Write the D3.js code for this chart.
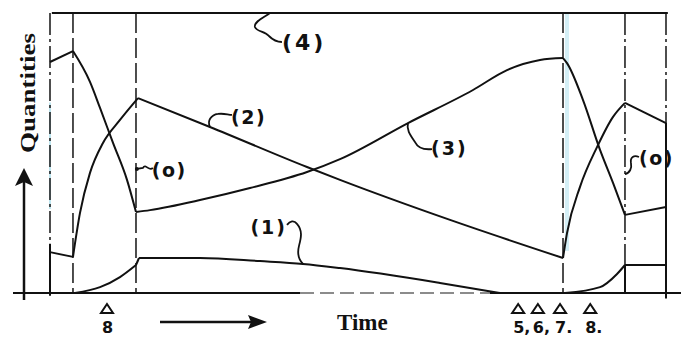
<!DOCTYPE html>
<html>
<head>
<meta charset="UTF-8" />
<title>quantities over time</title>
<style>
    body { margin: 0; padding: 0; background: #fff; }
    svg { display: block; }
    .curve { fill: none; stroke: #111; stroke-width: 2; stroke-linejoin: round; }
    .lbl { font-family: 'DejaVu Sans', sans-serif; fill: #111; }
    .axisTitle { font-family: 'Liberation Serif', serif; font-weight: bold; fill: #111; }
</style>
</head>
<body>
<div id="chart"></div>
<script src="https://cdnjs.cloudflare.com/ajax/libs/d3/7.8.5/d3.min.js"></script>
<script>
// time runs 0..100, quantities 0..100
const eventTimes = [0, 3.73, 13.96, 83.28, 93.34, 100]

// (0) and (3) form one continuous line
const q0Start = [[0, 82.5], [3.73, 86.4]]
const q0Fall1 = [[3.73, 86.4], [6.49, 75.4], [8.12, 66.1], [10.23, 53.6], [12.5, 40.4], [13.96, 28.9]]
const q3Rise = [[13.96, 28.9], [16.23, 29.6], [24.35, 33.2], [32.47, 37.5], [41.72, 43.2], [47.08, 47.8],
    [58.12, 60.7], [68.67, 72.5], [74.19, 79.6], [79.55, 83.2], [83.28, 83.9]]
const q0Fall2 = [[83.28, 83.9], [83.93, 82.1], [86.53, 68.9], [89.29, 51.1], [91.4, 39.3], [93.34, 27.9]]
const q0End = [[93.34, 27.9], [100, 30.7]]

// (2)
const q2Start = [[0, 14.6], [3.73, 12.9]]
const q2Rise1 = [[3.73, 12.9], [4.87, 28.6], [6.49, 42.9], [8.6, 53.6], [11.36, 61.8], [14.29, 69.6]]
const q2Fall = [[14.29, 69.6], [25.97, 59.3], [41.72, 45.0], [47.08, 40.4], [64.94, 26.1], [83.28, 12.5]]
const q2Rise2 = [[83.28, 12.5], [83.93, 21.4], [86.04, 37.9], [88.8, 52.1], [91.4, 62.9], [93.34, 67.9]]
const q2End = [[93.34, 67.9], [100, 60.7]]

// (1)
const q1Rise1 = [[4.06, 0], [8.12, 2.1], [11.36, 5.7], [13.96, 10.0]]
const q1Step = [[13.96, 10.0], [14.45, 12.5]]
const q1Fall = [[14.45, 12.5], [24.35, 12.5], [34.09, 11.4], [41.07, 10.4], [47.08, 8.9], [63.31, 3.6], [73.05, 0]]
const q1Rise2 = [[83.6, 0], [89.29, 2.1], [92.05, 6.8], [93.34, 10.0]]
const q1End = [[93.34, 10.0], [100, 10.0]]

// (4)
const q4 = [[0.3, 100], [100.3, 100]]

// bottom markers
const markTimes = [9.25, 76.0, 79.2, 82.8, 87.7]
const markLabels = ['8', '5,', '6,', '7.', '8.']

const W = 681, H = 338
const x = d3.scaleLinear().domain([0, 100]).range([50, 666])
const y = d3.scaleLinear().domain([0, 100]).range([293, 13])

const svg = d3.select('#chart').append('svg')
    .attr('width', W)
    .attr('height', H)

// faint scanner tint near the boundaries
svg.append('line')
    .attr('x1', x(83.28) + 4).attr('x2', x(83.28) + 4)
    .attr('y1', y(100)).attr('y2', y(15))
    .attr('stroke', '#d4eff6').attr('stroke-width', 4)
svg.append('line')
    .attr('x1', x(0)).attr('x2', x(0))
    .attr('y1', y(68)).attr('y2', y(30))
    .attr('stroke', '#bfe6f0').attr('stroke-width', 2)

// event boundaries
const dashStyle = ['22,4,3,4', '20,5', '20,5', '20,5', '22,4,3,4', '22,4,3,4']
svg.selectAll('.event')
    .data(eventTimes)
    .join('line')
    .attr('class', 'event')
    .attr('x1', d => x(d)).attr('x2', d => x(d))
    .attr('y1', y(100)).attr('y2', y(0))
    .attr('stroke', '#222')
    .attr('stroke-width', 1.6)
    .attr('stroke-dasharray', (d, i) => dashStyle[i])

// solid lower parts of the outer boundaries
const solidParts = [
    [eventTimes[0], q2Start[0][1] + 3, -1],
    [eventTimes[4], q1End[0][1], 0],
    [eventTimes[5], q2End[1][1], -2]
]
svg.selectAll('.solidPart')
    .data(solidParts)
    .join('line')
    .attr('class', 'solidPart')
    .attr('x1', d => x(d[0])).attr('x2', d => x(d[0]))
    .attr('y1', d => y(d[1])).attr('y2', d => y(d[2]))
    .attr('stroke', '#111')
    .attr('stroke-width', 2)

// baseline
svg.append('line')
    .attr('x1', 13).attr('x2', 300).attr('y1', y(0)).attr('y2', y(0))
    .attr('stroke', '#111').attr('stroke-width', 2)
svg.append('line')
    .attr('x1', 300).attr('x2', 490).attr('y1', y(0)).attr('y2', y(0))
    .attr('stroke', '#666').attr('stroke-width', 1.5).attr('stroke-dasharray', '14,6')
svg.append('line')
    .attr('x1', 490).attr('x2', W).attr('y1', y(0)).attr('y2', y(0))
    .attr('stroke', '#111').attr('stroke-width', 2)

// curves
const straight = d3.line().x(d => x(d[0])).y(d => y(d[1])).curve(d3.curveLinear)
const smooth = d3.line().x(d => x(d[0])).y(d => y(d[1])).curve(d3.curveMonotoneX)

const pieces = [
    [q4, straight, '#111'],
    [q0Start, straight, '#111'], [q0Fall1, smooth, '#111'], [q3Rise, smooth, '#111'],
    [q0Fall2, smooth, '#111'], [q0End, straight, '#111'],
    [q2Start, straight, '#111'], [q2Rise1, smooth, '#111'], [q2Fall, smooth, '#111'],
    [q2Rise2, smooth, '#111'], [q2End, straight, '#111'],
    [q1Rise1, smooth, '#111'], [q1Step, straight, '#111'], [q1Fall, smooth, '#111'],
    [q1Rise2, smooth, '#8a8a8a'], [q1End, straight, '#111']
]
svg.selectAll('.curve')
    .data(pieces)
    .join('path')
    .attr('class', 'curve')
    .attr('stroke', d => d[2])
    .attr('d', d => d[1](d[0]))

// labels with wiggly leaders: anchor point, leader path, text position
const labels = [
    { at: [35.7, 100], wiggle: 'M0,0 C-5,4 -16,8 -15,14 C-13,19 -5,18 -1,23 C3,27 8,29 12,29', text: '(4)', tx: 12, ty: 37, size: 22, sp: 3 },
    { at: [25.97, 59.3], wiggle: 'M0,0 C-3,-6 1,-12 8,-13 C14,-14 18,-12 22,-12', text: '(2)', tx: 21, ty: -3, size: 19, sp: 1.5 },
    { at: [14.1, 44.3], wiggle: 'M0,0 L6,-1 C9,-6 12,3 16,-1', text: '(o)', tx: 15, ty: 8, size: 19, sp: 1.5 },
    { at: [41.07, 10.4], wiggle: 'M0,0 C-4,-4 -6,-10 -4,-18 C-2,-26 0,-33 -6,-40 C-9,-44 -13,-43 -16,-39', text: '(1)', tx: -16, ty: -30, size: 19, sp: 2, anchor: 'end' },
    { at: [58.12, 60.7], wiggle: 'M0,0 C-2,7 3,13 7,19 C10,25 15,27 24,26', text: '(3)', tx: 23, ty: 32, size: 19, sp: 2 },
    { at: [93.34, 42.5], wiggle: 'M0,0 C5,-1 7,-6 6,-11 C5,-17 9,-19 14,-17', text: '(o)', tx: 14, ty: -9, size: 19, sp: 1.5 }
]
const lg = svg.selectAll('.label')
    .data(labels)
    .join('g')
    .attr('class', 'label')
    .attr('transform', d => `translate(${x(d.at[0])},${y(d.at[1])})`)
lg.append('path')
    .attr('d', d => d.wiggle)
    .attr('fill', 'none')
    .attr('stroke', '#111')
    .attr('stroke-width', 1.8)
lg.append('text')
    .attr('class', 'lbl')
    .attr('x', d => d.tx)
    .attr('y', d => d.ty)
    .attr('font-size', d => d.size)
    .attr('font-weight', 'bold')
    .attr('letter-spacing', d => d.sp)
    .attr('text-anchor', d => d.anchor || 'start')
    .text(d => d.text)
lg.filter((d, i) => i === 2).append('circle')
    .attr('r', 2).attr('fill', '#111')

// y axis arrow
svg.append('line')
    .attr('x1', 24).attr('x2', 24).attr('y1', 300).attr('y2', 182)
    .attr('stroke', '#111').attr('stroke-width', 2.5)
svg.append('path')
    .attr('d', 'M24,168 L15,186 L24,182 L33,186 Z')
    .attr('fill', '#111')
svg.append('text')
    .attr('class', 'axisTitle')
    .attr('transform', 'translate(35,93) rotate(-90)')
    .attr('text-anchor', 'middle')
    .attr('font-size', 21)
    .attr('textLength', 120)
    .attr('lengthAdjust', 'spacingAndGlyphs')
    .text('Quantities')

// time arrow
svg.append('line')
    .attr('x1', 160).attr('x2', 252).attr('y1', 322).attr('y2', 322)
    .attr('stroke', '#111').attr('stroke-width', 2.5)
svg.append('path')
    .attr('d', 'M267,322 L248,315 L251,322 L248,329 Z')
    .attr('fill', '#111')
svg.append('text')
    .attr('class', 'axisTitle')
    .attr('x', 337).attr('y', 330)
    .attr('font-size', 23)
    .text('Time')

// triangle markers
const mg = svg.selectAll('.mark')
    .data(markTimes)
    .join('g')
    .attr('class', 'mark')
    .attr('transform', d => `translate(${x(d)},309)`)
mg.append('path')
    .attr('d', 'M0,-5 L-6,4 L6,4 Z')
    .attr('fill', '#fff')
    .attr('stroke', '#111')
    .attr('stroke-width', 2)
mg.append('text')
    .attr('class', 'lbl')
    .attr('x', -5).attr('y', 24)
    .attr('font-size', 16)
    .attr('font-weight', 'bold')
    .text((d, i) => markLabels[i])
</script>
</body>
</html>
